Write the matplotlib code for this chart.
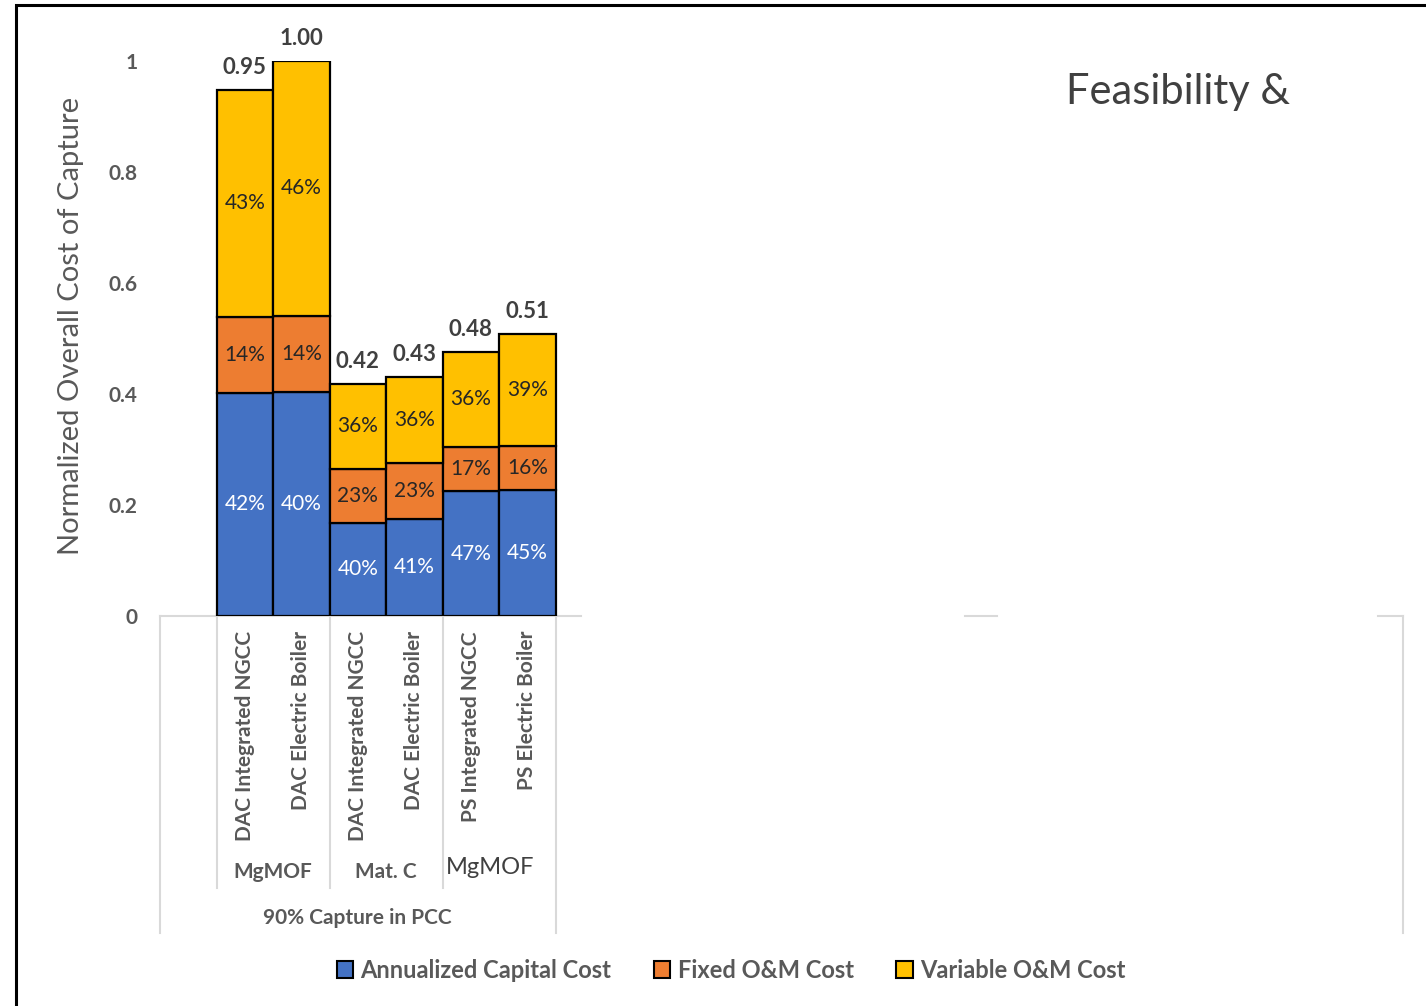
import matplotlib

matplotlib.use("Agg")
import matplotlib.pyplot as plt
import numpy as np
from matplotlib.patches import Patch, Rectangle

plt.rcParams["font.family"] = ["Lato", "DejaVu Sans"]

categories = [
    "DAC Integrated NGCC",
    "DAC Electric Boiler",
    "DAC Integrated NGCC",
    "DAC Electric Boiler",
    "PS Integrated NGCC",
    "PS Electric Boiler",
]
groups = ["MgMOF", "Mat. C", "MgMOF"]
outer_group = "90% Capture in PCC"

capital = [0.402, 0.404, 0.168, 0.175, 0.225, 0.227]
fixed_om = [0.137, 0.137, 0.097, 0.101, 0.080, 0.079]
variable_om = [0.409, 0.459, 0.153, 0.155, 0.171, 0.202]
totals = ["0.95", "1.00", "0.42", "0.43", "0.48", "0.51"]

capital_pct = ["42%", "40%", "40%", "41%", "47%", "45%"]
fixed_pct = ["14%", "14%", "23%", "23%", "17%", "16%"]
variable_pct = ["43%", "46%", "36%", "36%", "36%", "39%"]

series_names = ["Annualized Capital Cost", "Fixed O&M Cost", "Variable O&M Cost"]
colors = ["#4472C4", "#ED7D31", "#FFC000"]

W, H = 1426, 1006
fig = plt.figure(figsize=(W / 100, H / 100), dpi=100)

# plot area: 22 category slots, bars sit in slots 1..6
ax_left, ax_right = 160, 1403
y0_px, y1_px = 616, 61
ax = fig.add_axes([ax_left / W, 1 - y0_px / H, (ax_right - ax_left) / W, (y0_px - y1_px) / H])
ax.set_xlim(0, 22)
ax.set_ylim(0, 1)
for s in ax.spines.values():
    s.set_visible(False)
ax.set_xticks([])
ax.set_yticks(np.arange(0, 1.01, 0.2))
ax.set_yticklabels(["0", "0.2", "0.4", "0.6", "0.8", "1"], fontsize=15, color="#595959", fontweight="bold")
ax.tick_params(axis="y", length=0, pad=16)
ax.set_ylabel("Normalized Overall Cost of Capture", fontsize=21, color="#595959")
ax.yaxis.set_label_coords(-0.061, 0.5225)

x = np.arange(len(categories)) + 1.5
bottom = np.zeros(len(categories))
layers = [(capital, capital_pct, "white"), (fixed_om, fixed_pct, "#262626"), (variable_om, variable_pct, "#262626")]
for (vals, pcts, tcol), col, name in zip(layers, colors, series_names):
    vals = np.array(vals)
    ax.bar(x, vals, width=1.0, bottom=bottom, color=col, edgecolor="black", linewidth=1.6, label=name, zorder=3)
    for xi, b, v, p in zip(x, bottom, vals, pcts):
        ax.text(xi, b + v / 2, p, ha="center", va="center", fontsize=15, color=tcol, zorder=4)
    bottom = bottom + vals

for xi, top, t in zip(x, bottom, totals):
    ax.text(xi, top + 0.022, t, ha="center", va="bottom", fontsize=16, fontweight="bold", color="#404040")

# category axis lines (light gray)
gray = "#D9D9D9"
for xa, xb in [(0, 7.46), (14.24, 14.81), (21.56, 22)]:
    ax.plot([xa, xb], [0, 0], color=gray, lw=1.5, clip_on=False, zorder=2)
px = 1.0 / (y0_px - y1_px)
for xv, ybot in [(0, 933), (1, 888), (3, 888), (5, 888), (7, 933), (22, 933)]:
    ax.plot([xv, xv], [0, -(ybot - y0_px) * px], color=gray, lw=1.5, clip_on=False)

for xi, c in zip(x, categories):
    ax.text(xi, -15 * px, c, rotation=90, ha="center", va="top", fontsize=15, fontweight="bold", color="#595959")

group_x = [2, 4, 5.85]
for i, (gx, g) in enumerate(zip(group_x, groups)):
    if i < 2:
        ax.text(gx, -(872 - y0_px) * px, g, ha="center", va="center", fontsize=15, fontweight="bold", color="#595959")
    else:
        ax.text(gx, -(868 - y0_px) * px, g, ha="center", va="center", fontsize=17, color="#404040")
ax.text(3.5, -(918 - y0_px) * px, outer_group, ha="center", va="center", fontsize=15, fontweight="bold", color="#595959")

# legend
handles = [Patch(facecolor=c, edgecolor="black", linewidth=1.5, label=n) for c, n in zip(colors, series_names)]
fig.legend(handles=handles, loc="center", bbox_to_anchor=(731 / W, 1 - 970 / H), ncol=3, frameon=False,
           handlelength=0.7, handleheight=0.7, handletextpad=0.3, columnspacing=1.8,
           prop={"weight": "bold", "size": 17})
for t in fig.legends[0].get_texts():
    t.set_color("#595959")

fig.text(1178 / W, 1 - 92 / H, "Feasibility &", ha="center", va="center", fontsize=30, color="#404040")

# slide border
fig.patches.append(Rectangle((16 / W, -0.1), 1.2, 1 - 5 / H + 0.1, transform=fig.transFigure,
                             fill=False, edgecolor="black", linewidth=2.2))

fig.savefig("out.png", dpi=100)
